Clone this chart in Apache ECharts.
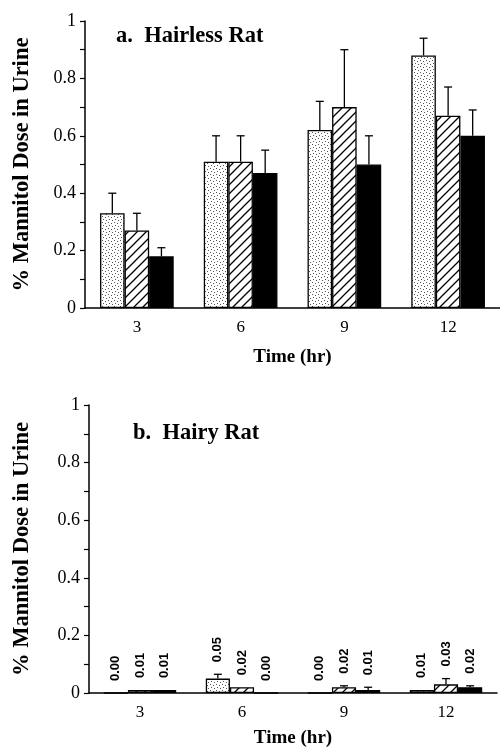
<!DOCTYPE html>
<html>
<head>
<meta charset="utf-8">
<script src="https://cdn.jsdelivr.net/npm/echarts@6/dist/echarts.min.js"></script>
<style>
html,body{margin:0;padding:0;background:#fff;}
#c{width:500px;height:748px;}
</style>
</head>
<body>
<div id="c"></div>
<script>
// ---- data ----
const categories = ['3', '6', '9', '12'];
// panel a: Hairless Rat
const hairlessStippled = [0.33, 0.51, 0.62, 0.88];
const hairlessStippledErr = [0.07, 0.09, 0.10, 0.06];
const hairlessHatched = [0.27, 0.51, 0.70, 0.67];
const hairlessHatchedErr = [0.06, 0.09, 0.20, 0.10];
const hairlessBlack = [0.18, 0.47, 0.50, 0.60];
const hairlessBlackErr = [0.03, 0.08, 0.10, 0.09];
// panel b: Hairy Rat
const hairyStippled = [0.00, 0.05, 0.00, 0.01];
const hairyStippledErr = [0, 0.015, 0, 0];
const hairyHatched = [0.01, 0.02, 0.02, 0.03];
const hairyHatchedErr = [0, 0, 0.005, 0.02];
const hairyBlack = [0.01, 0.00, 0.01, 0.02];
const hairyBlackErr = [0, 0, 0.01, 0.005];
const yTicks = [0, 0.2, 0.4, 0.6, 0.8, 1];

const SERIF = '"Liberation Serif", "DejaVu Serif", serif';

function makeStipple() {
  const s = 6;
  const c = document.createElement('canvas');
  c.width = s; c.height = s;
  const g = c.getContext('2d');
  g.fillStyle = '#fff'; g.fillRect(0, 0, s, s);
  g.fillStyle = '#555';
  g.fillRect(0, 0, 1, 1);
  g.fillRect(3, 1, 1, 1);
  g.fillRect(1, 3, 1, 1);
  g.fillRect(4, 4, 1, 1);
  return c;
}
function makeHatch() {
  const s = 9;
  const c = document.createElement('canvas');
  c.width = s; c.height = s;
  const g = c.getContext('2d');
  g.fillStyle = '#fff'; g.fillRect(0, 0, s, s);
  g.strokeStyle = '#000'; g.lineWidth = 1.3;
  g.beginPath();
  g.moveTo(-1, s + 1); g.lineTo(s + 1, -1);
  g.moveTo(-1, 1); g.lineTo(1, -1);
  g.moveTo(s - 1, s + 1); g.lineTo(s + 1, s - 1);
  g.stroke();
  return c;
}
const stipple = { image: makeStipple(), repeat: 'repeat' };
const hatch = { image: makeHatch(), repeat: 'repeat' };
const fills = [stipple, hatch, '#000'];

const CAT_GAP = 0.29;

function barSeries(vals, idx, gi) {
  return {
    type: 'bar', xAxisIndex: gi, yAxisIndex: gi,
    data: vals,
    barGap: '0%', barCategoryGap: (CAT_GAP * 100) + '%',
    itemStyle: { color: fills[idx], borderColor: '#000', borderWidth: 1.3 },
    silent: true, animation: false, z: 2
  };
}

function errSeries(vals, errs, idx, gi, showLabel) {
  const data = vals.map((v, i) => [i, v, errs[i]]);
  return {
    type: 'custom', xAxisIndex: gi, yAxisIndex: gi,
    data: data, z: 3, animation: false, silent: true,
    renderItem: function (params, api) {
      const ci = api.value(0), v = api.value(1), e = api.value(2);
      const band = api.size([1, 0])[0];
      const bw = band * (1 - CAT_GAP) / 3;
      const base = api.coord([ci, v]);
      const x = base[0] + (idx - 1) * bw;
      const top = api.coord([ci, v + e]);
      const children = [];
      if (e > 0) {
        children.push({ type: 'line', shape: { x1: x, y1: base[1], x2: x, y2: top[1] }, style: { stroke: '#000', lineWidth: 1.3 } });
        children.push({ type: 'line', shape: { x1: x - 4, y1: top[1], x2: x + 4, y2: top[1] }, style: { stroke: '#000', lineWidth: 1.3 } });
      }
      if (showLabel) {
        children.push({
          type: 'text', x: x, y: top[1] - 12, rotation: Math.PI / 2,
          style: { text: v.toFixed(2), align: 'left', verticalAlign: 'middle', font: 'bold 13px "Liberation Sans", Arial, sans-serif', fill: '#000' }
        });
      }
      return { type: 'group', children: children };
    }
  };
}

function xAxis(gi) {
  return {
    type: 'category', gridIndex: gi, data: categories,
    axisLine: { lineStyle: { color: '#000', width: 1.5 } },
    axisTick: { show: false },
    axisLabel: { color: '#000', fontFamily: SERIF, fontSize: 17, margin: 11 },
    name: 'Time (hr)', nameLocation: 'middle', nameGap: gi === 0 ? 40 : 36,
    nameTextStyle: { color: '#000', fontFamily: SERIF, fontSize: 19, fontWeight: 'bold' }
  };
}
function yAxis(gi) {
  return {
    type: 'value', gridIndex: gi, min: yTicks[0], max: yTicks[yTicks.length - 1], interval: yTicks[1] - yTicks[0],
    axisLine: { show: true, lineStyle: { color: '#000', width: 1.5 } },
    axisTick: { show: true, length: 5, lineStyle: { color: '#000', width: 1.2 } },
    minorTick: { show: true, splitNumber: 2, length: 5, lineStyle: { color: '#000', width: 1.2 } },
    splitLine: { show: false },
    axisLabel: { color: '#000', fontFamily: SERIF, fontSize: 18, margin: 9,
      formatter: v => String(v) },
    name: '% Mannitol Dose in Urine', nameLocation: 'middle', nameRotate: 90, nameGap: gi === 0 ? 51 : 55,
    nameTextStyle: { color: '#000', fontFamily: SERIF, fontSize: 22.5, fontWeight: 'bold' }
  };
}

const chart = echarts.init(document.getElementById('c'), null, { renderer: 'canvas' });
chart.setOption({
  backgroundColor: '#fff',
  animation: false,
  title: [
    { text: 'a.  Hairless Rat', left: 116, top: 25, padding: 0,
      textStyle: { fontFamily: SERIF, fontSize: 22.5, fontWeight: 'bold', color: '#000' } },
    { text: 'b.  Hairy Rat', left: 133, top: 422, padding: 0,
      textStyle: { fontFamily: SERIF, fontSize: 22.5, fontWeight: 'bold', color: '#000' } }
  ],
  grid: [
    { left: 85, top: 21, width: 415, height: 287, containLabel: false, outerBoundsMode: 'none' },
    { left: 89, top: 405, width: 408, height: 288, containLabel: false, outerBoundsMode: 'none' }
  ],
  xAxis: [xAxis(0), xAxis(1)],
  yAxis: [yAxis(0), yAxis(1)],
  series: [
    barSeries(hairlessStippled, 0, 0),
    barSeries(hairlessHatched, 1, 0),
    barSeries(hairlessBlack, 2, 0),
    errSeries(hairlessStippled, hairlessStippledErr, 0, 0, false),
    errSeries(hairlessHatched, hairlessHatchedErr, 1, 0, false),
    errSeries(hairlessBlack, hairlessBlackErr, 2, 0, false),
    barSeries(hairyStippled, 0, 1),
    barSeries(hairyHatched, 1, 1),
    barSeries(hairyBlack, 2, 1),
    errSeries(hairyStippled, hairyStippledErr, 0, 1, true),
    errSeries(hairyHatched, hairyHatchedErr, 1, 1, true),
    errSeries(hairyBlack, hairyBlackErr, 2, 1, true)
  ]
});
</script>
</body>
</html>
